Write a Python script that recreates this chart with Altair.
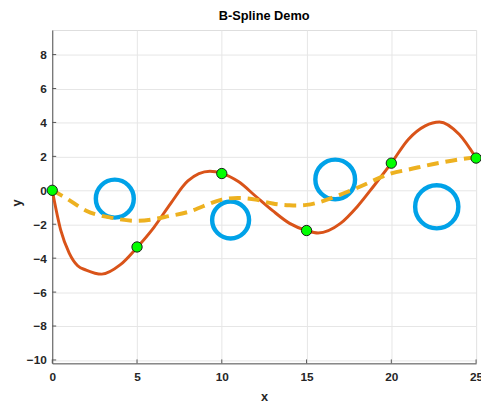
import altair as alt
import pandas as pd

# Data points (green)
pts_x = [0, 5, 10, 15, 20, 25]
pts_y = [0, -3.34, 0.99, -2.37, 1.6, 1.9]

# Interpolating spline (solid)
sol_x = [0, 0.5, 1, 1.5, 2, 2.92, 4, 5, 6, 7, 8, 9.3, 10, 11, 12, 13, 14, 15, 15.68,
         17, 18, 19, 20, 21, 22, 22.84, 24, 25]
sol_y = [0, -2.35, -3.7, -4.45, -4.7, -4.94, -4.4, -3.37, -2.18, -0.75, 0.55, 1.12, 1.0,
         0.5, -0.35, -1.2, -1.95, -2.37, -2.52, -1.95, -0.95, 0.3, 1.6, 3.0, 3.8, 4.03, 3.3, 1.9]

# Smoothing spline (dashed) at x = 0, 1, ..., 25
dash_x = list(range(26))
dash_y = [0, -0.58, -1.2, -1.52, -1.71, -1.8, -1.7, -1.5, -1.28, -0.9, -0.55, -0.45, -0.55,
          -0.78, -0.88, -0.86, -0.62, -0.25, 0.15, 0.6, 1.0, 1.22, 1.45, 1.65, 1.82, 1.95]

# Open blue circles
circ_x = [3.69, 10.52, 16.69, 22.68]
circ_y = [-0.49, -1.75, 0.64, -0.97]
circ_s = [1490, 1410, 1630, 1930]

x_ticks = [0, 5, 10, 15, 20, 25]
y_ticks = [-10, -8, -6, -4, -2, 0, 2, 4, 6, 8]

W, H = 431, 339
FONT = "Liberation Sans"
TXT = "#262626"

xs = alt.Scale(domain=[0, 25], nice=False, zero=False)
ys = alt.Scale(domain=[-10.2, 9.45], nice=False, zero=False)

xaxis = alt.Axis(values=x_ticks, grid=True, gridColor="#e6e6e6", gridWidth=1,
                 domainColor="#555555", domainWidth=1, tickSize=0, labelPadding=8,
                 labelFont=FONT, labelFontSize=12, labelFontWeight="bold", labelColor=TXT,
                 titleFont=FONT, titleFontSize=13, titleFontWeight="bold",
                 titleColor=TXT, titleX=W / 2, titleY=34, titleBaseline="middle",
                 labelFlush=False)
yaxis = alt.Axis(values=y_ticks, grid=True, gridColor="#e6e6e6", gridWidth=1,
                 domainColor="#555555", domainWidth=1, tickSize=0, labelPadding=6,
                 labelFont=FONT, labelFontSize=12, labelFontWeight="bold", labelColor=TXT,
                 titleFont=FONT, titleFontSize=13, titleFontWeight="bold",
                 titleColor=TXT, titleX=-36, titleY=H / 2 + 6, titleAngle=270,
                 titleAlign="center", titleBaseline="middle")

df_pts = pd.DataFrame({"x": pts_x, "y": pts_y})
df_sol = pd.DataFrame({"x": sol_x, "y": sol_y})
df_dash = pd.DataFrame({"x": dash_x, "y": dash_y})
df_circ = pd.DataFrame({"x": circ_x, "y": circ_y, "s": circ_s})
df_xt = pd.DataFrame({"x": x_ticks})
df_yt = pd.DataFrame({"y": y_ticks})

X = alt.X("x:Q", scale=xs, axis=xaxis, title="x")
Y = alt.Y("y:Q", scale=ys, axis=yaxis, title="y")

xt = alt.Chart(df_xt).mark_rule(color="#555555", strokeWidth=1).encode(
    x=X, y=alt.value(H), y2=alt.value(H - 4))
yt = alt.Chart(df_yt).mark_rule(color="#555555", strokeWidth=1).encode(
    y=Y, x=alt.value(0), x2=alt.value(4))

circles = alt.Chart(df_circ).mark_point(shape="circle", filled=False, color="#00A2E8",
                                        strokeWidth=4.5, opacity=1).encode(
    x=X, y=Y,
    size=alt.Size("s:Q", scale=None, legend=None),
)

solid = alt.Chart(df_sol).mark_line(color="#D95319", strokeWidth=3,
                                    interpolate="monotone").encode(
    x=X, y=Y, order="x:Q",
)

dashed = alt.Chart(df_dash).mark_line(color="#EDB120", strokeWidth=4,
                                      strokeDash=[12, 7], interpolate="natural").encode(
    x=X, y=Y, order="x:Q",
)

points = alt.Chart(df_pts).mark_point(shape="circle", filled=True, fill="#00FF00",
                                      stroke="#1a1a1a", strokeWidth=1, size=110,
                                      opacity=1).encode(
    x=X, y=Y,
)

chart = alt.layer(xt, yt, circles, solid, dashed, points).properties(
    width=W, height=H,
    title=alt.TitleParams("B-Spline Demo", font=FONT, fontSize=13, fontWeight="bold",
                          color="#000000", anchor="middle", offset=7),
    autosize=alt.AutoSizeParams(type="none"),
    padding={"left": 45, "top": 19, "right": 5, "bottom": 40},
).configure_view(stroke=None).configure(background="white")

chart.save("out.html", embed_options={"renderer": "svg", "actions": False})
